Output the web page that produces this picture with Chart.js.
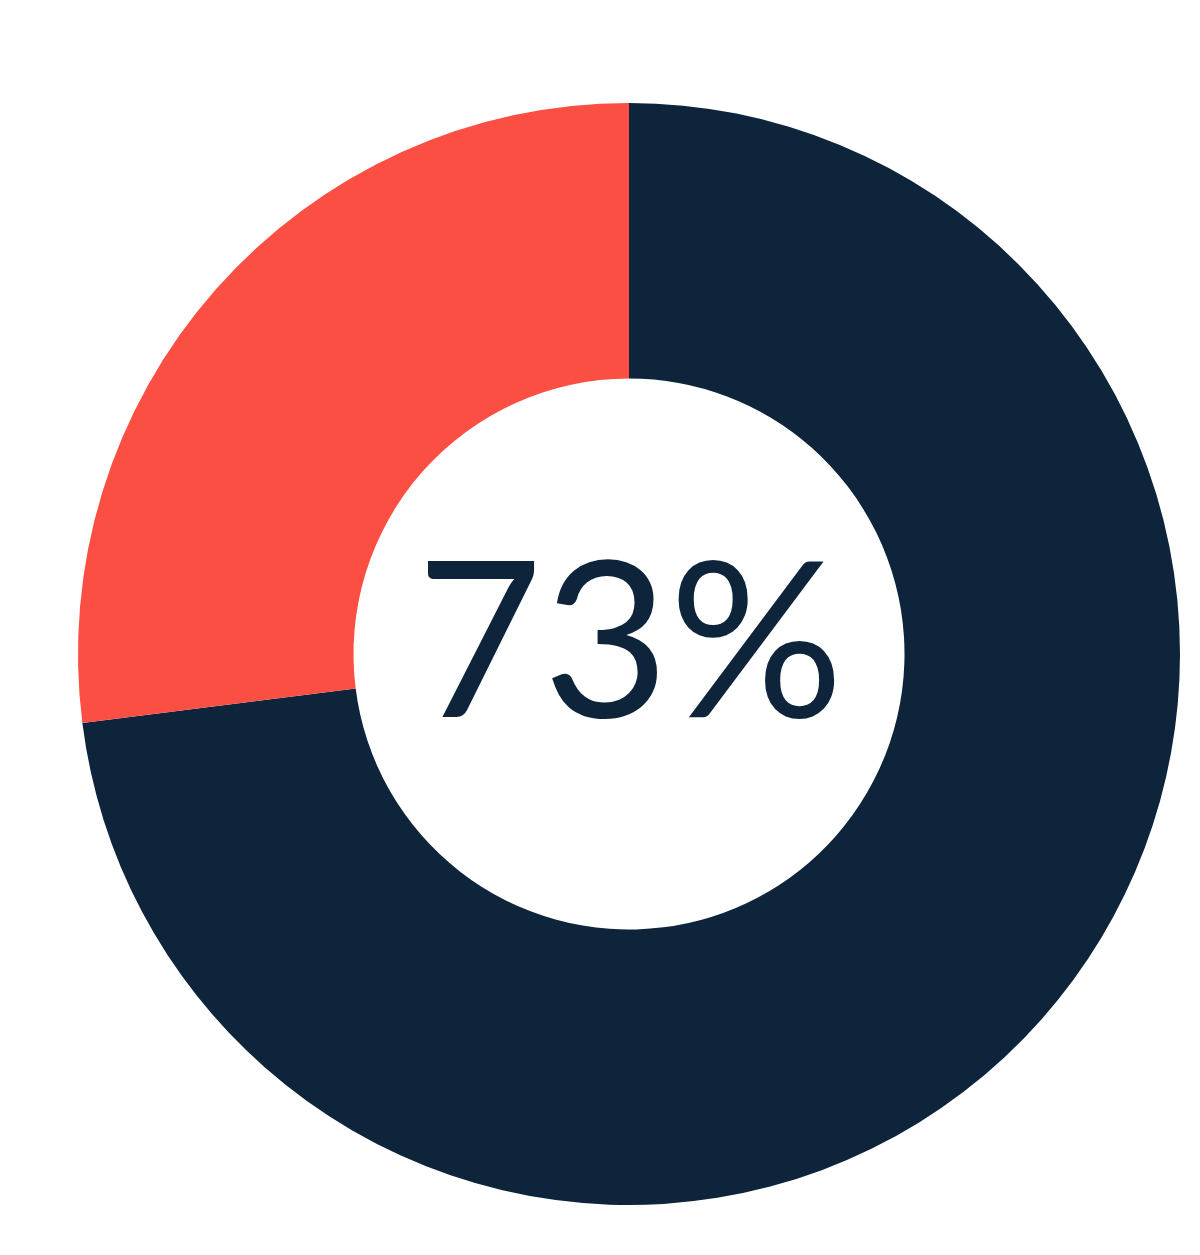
<!DOCTYPE html>
<html>
<head>
<meta charset="utf-8">
<script src="https://cdn.jsdelivr.net/npm/chart.js@4"></script>
<style>
    html, body { margin: 0; padding: 0; background: #ffffff; }
    #wrap { width: 1200px; height: 1255px; }
</style>
</head>
<body>
<div id="wrap"><canvas id="donutChart"></canvas></div>
<script>
const labels = ['Yes', 'No'];
const values = [73, 27];
const colors = ['#0d243a', '#fb4f44'];
const centerLabel = '73%';

const centerText = {
    id: 'centerText',
    afterDraw: function (chart) {
        const meta = chart.getDatasetMeta(0);
        if (!meta.data.length) return;
        const arc = meta.data[0];
        const ctx = chart.ctx;
        ctx.save();
        ctx.fillStyle = '#0d243a';
        ctx.font = '400 218px Lato';
        ctx.textAlign = 'center';
        ctx.textBaseline = 'alphabetic';
        ctx.fillText(centerLabel, arc.x + 1, arc.y + 63);
        ctx.restore();
    }
};

new Chart(document.getElementById('donutChart'), {
    type: 'doughnut',
    data: {
        labels: labels,
        datasets: [
            {
                data: values,
                backgroundColor: colors,
                borderWidth: 0
            }
        ]
    },
    options: {
        responsive: true,
        maintainAspectRatio: false,
        animation: false,
        cutout: '50%',
        layout: {
            padding: { left: 78, right: 20, top: 103, bottom: 50 }
        },
        plugins: {
            legend: { display: false },
            tooltip: { enabled: false }
        }
    },
    plugins: [centerText]
});
</script>
</body>
</html>
